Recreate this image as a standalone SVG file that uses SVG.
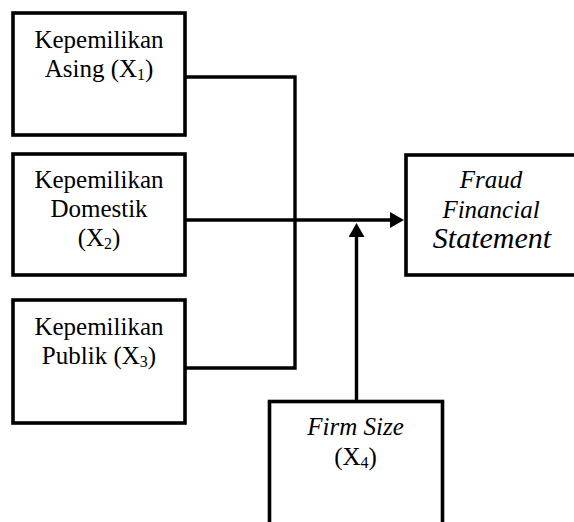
<svg xmlns="http://www.w3.org/2000/svg" width="574" height="522" viewBox="0 0 574 522">
<defs>
<style>
.box{fill:#fff;stroke:#000;stroke-width:3.6}
.line{fill:none;stroke:#000;stroke-width:3.4}
.t{font-family:'Liberation Serif','Times New Roman',Tinos,'DejaVu Serif',serif;font-size:25px;fill:#000;text-anchor:middle}
.it{font-style:italic}
.sub{font-size:16px}
</style>
<marker id="arr" markerUnits="userSpaceOnUse" markerWidth="16" markerHeight="16" refX="2" refY="8" orient="auto">
<path d="M0,0 L14,8 L0,16 z" fill="#000"/>
</marker>
</defs>
<rect width="574" height="522" fill="#fff"/>
<g id="connectors">
<path class="line" d="M185,77 H295 V368 H185"/>
<path class="line" d="M185,220 H392" marker-end="url(#arr)"/>
<path class="line" d="M356.5,401.5 V235" marker-end="url(#arr)"/>
</g>
<g id="node-x1">
<rect class="box" x="13" y="13" width="172" height="122"/>
<text class="t" x="99" y="48">Kepemilikan</text>
<text class="t" x="99" y="77">Asing (X<tspan class="sub" dy="3">1</tspan><tspan dy="-3">)</tspan></text>
</g>
<g id="node-x2">
<rect class="box" x="13" y="154" width="172" height="121"/>
<text class="t" x="99" y="188">Kepemilikan</text>
<text class="t" x="99" y="217">Domestik</text>
<text class="t" x="99" y="246">(X<tspan class="sub" dy="3">2</tspan><tspan dy="-3">)</tspan></text>
</g>
<g id="node-x3">
<rect class="box" x="13" y="300" width="172" height="123"/>
<text class="t" x="99" y="335">Kepemilikan</text>
<text class="t" x="99" y="364">Publik (X<tspan class="sub" dy="3">3</tspan><tspan dy="-3">)</tspan></text>
</g>
<g id="node-y">
<rect class="box" x="406" y="155" width="172" height="120"/>
<text class="t it" x="491" y="188">Fraud</text>
<text class="t it" x="491" y="218">Financial</text>
<text class="t it" x="492" y="248" style="font-size:30px">Statement</text>
</g>
<g id="node-x4">
<rect class="box" x="269.5" y="401.5" width="173" height="135"/>
<text class="t it" x="355.5" y="435">Firm Size</text>
<text class="t" x="355.5" y="465">(X<tspan class="sub" dy="3">4</tspan><tspan dy="-3">)</tspan></text>
</g>
</svg>
